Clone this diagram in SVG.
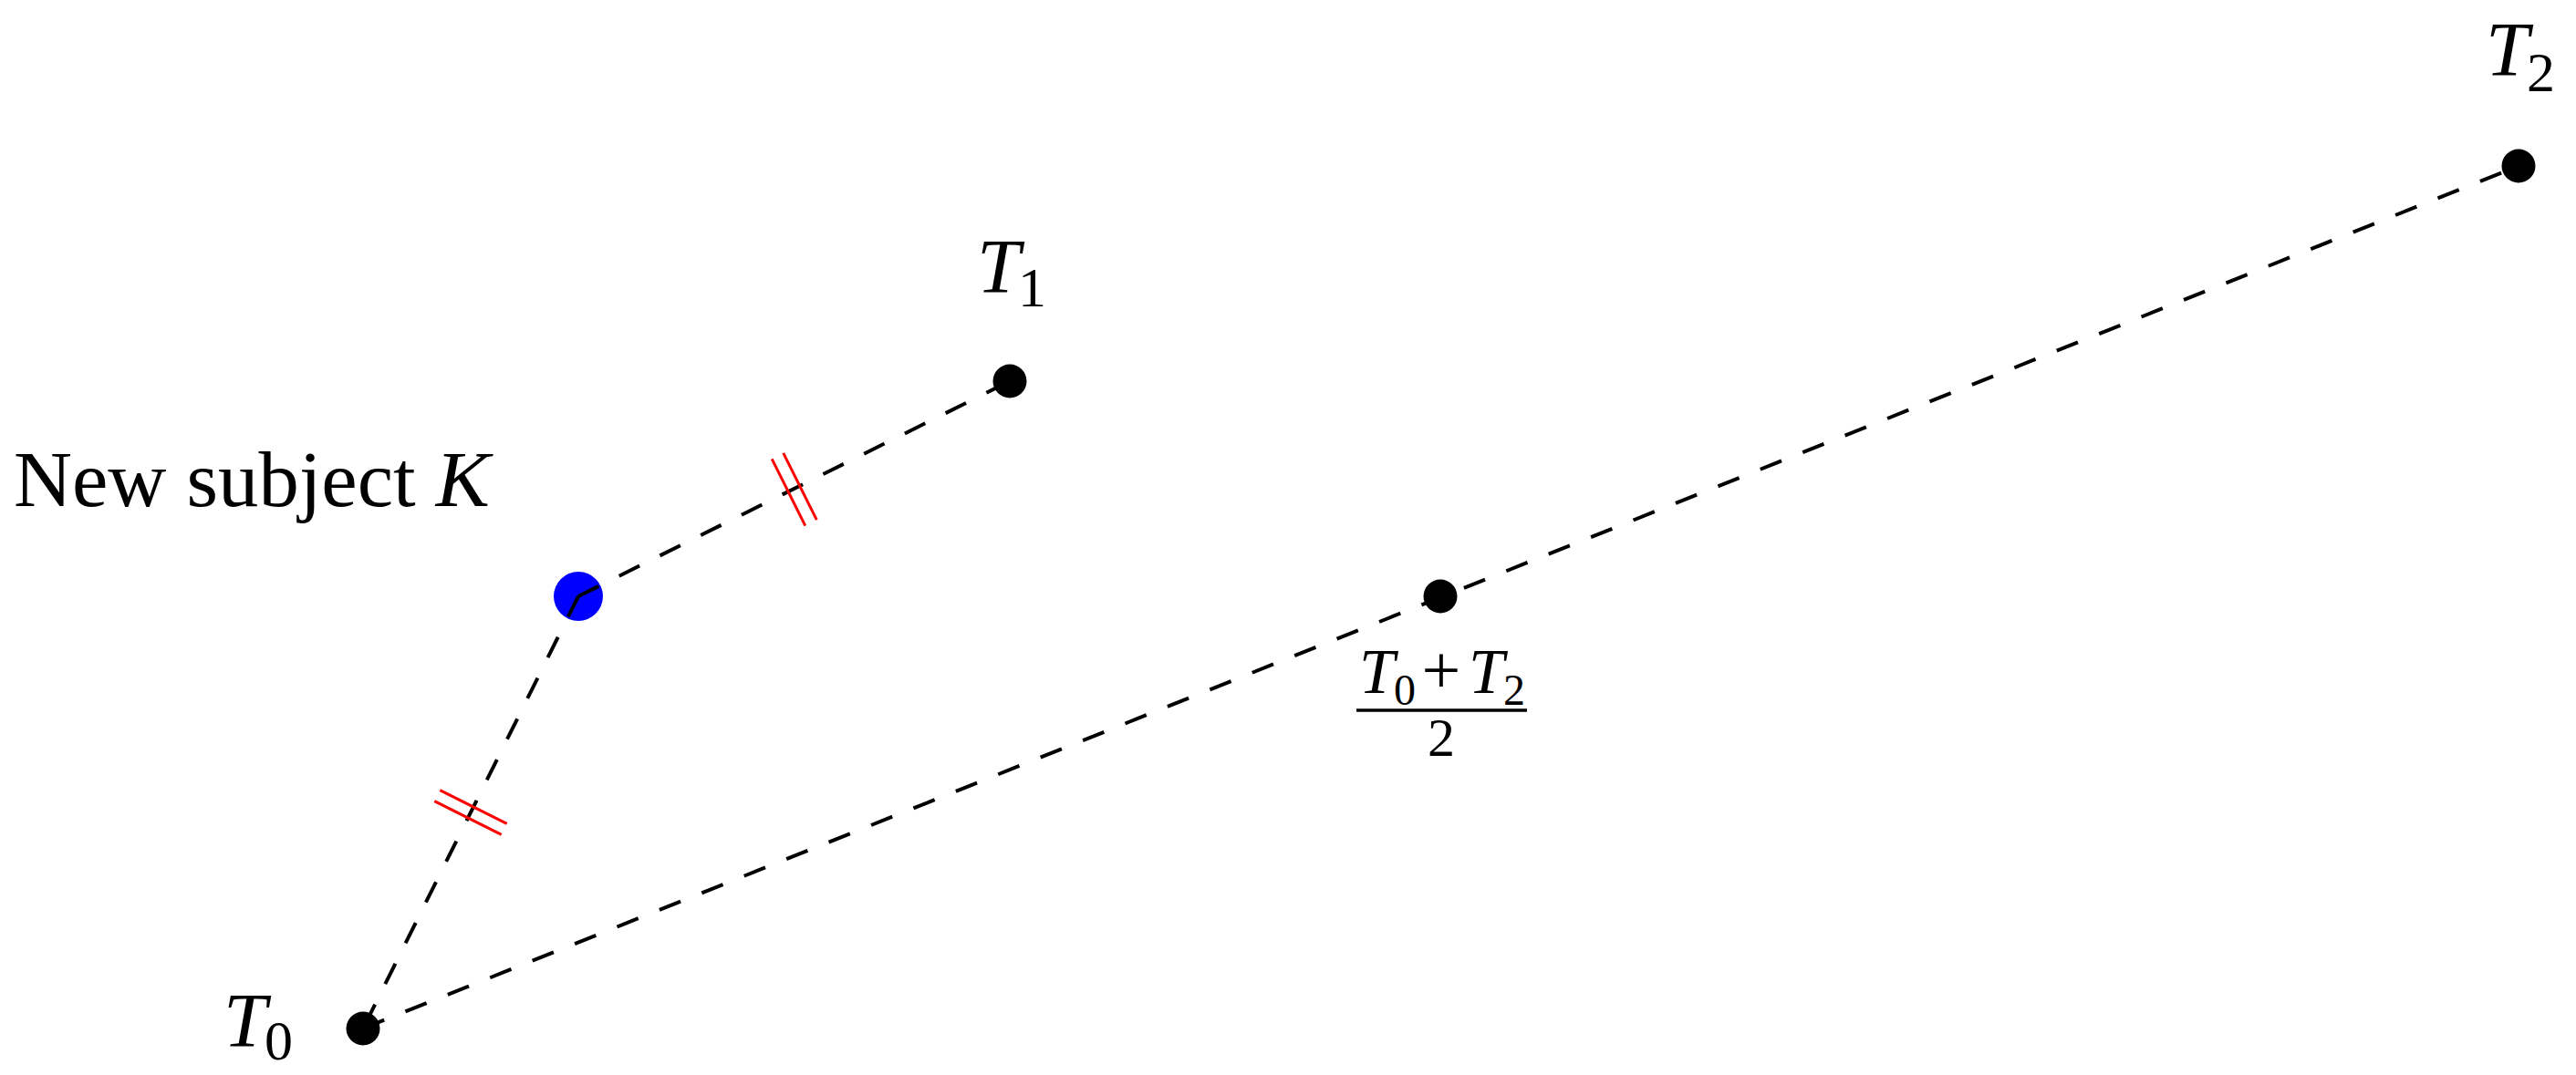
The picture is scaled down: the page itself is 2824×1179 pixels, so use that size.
<svg xmlns="http://www.w3.org/2000/svg" width="2824" height="1179" viewBox="0 0 2824 1179">
<style>
.lbl{font-family:"Liberation Serif","Times New Roman",serif;fill:#000}
.it{font-style:italic}
.dot{fill:#000}
.dash{stroke:#000;stroke-width:4;stroke-dasharray:25 25;fill:none}
.tick{stroke:#ff0000;stroke-width:3;fill:none}
</style>
<rect width="2824" height="1179" fill="#fff"/>
<g id="node-K">
<circle cx="634" cy="654" r="27" fill="#0000ff"/>
<text class="lbl" x="15" y="555" font-size="86" textLength="522" lengthAdjust="spacingAndGlyphs">New subject <tspan class="it">K</tspan></text>
</g>
<g id="node-T0">
<circle class="dot" cx="398" cy="1128" r="18.5"/>
<text class="lbl" font-size="85"><tspan class="it" x="245" y="1148">T</tspan><tspan x="290" y="1162" font-size="62">0</tspan></text>
</g>
<g id="node-T1">
<circle class="dot" cx="1107" cy="418" r="18.5"/>
<text class="lbl" font-size="85"><tspan class="it" x="1071" y="321">T</tspan><tspan x="1116" y="336" font-size="62">1</tspan></text>
</g>
<g id="node-T2">
<circle class="dot" cx="2761" cy="182" r="18.5"/>
<text class="lbl" font-size="85"><tspan class="it" x="2725" y="83">T</tspan><tspan x="2770" y="100" font-size="62">2</tspan></text>
</g>
<g id="node-mid">
<circle class="dot" cx="1579" cy="654" r="18.5"/>
<text class="lbl" font-size="70"><tspan class="it" x="1490" y="760">T</tspan><tspan x="1528" y="773" font-size="48">0</tspan></text>
<text class="lbl" x="1580" y="760" font-size="76" text-anchor="middle">+</text>
<text class="lbl" font-size="70"><tspan class="it" x="1610" y="760">T</tspan><tspan x="1648" y="773" font-size="48">2</tspan></text>
<line x1="1487" y1="779" x2="1674" y2="779" stroke="#000" stroke-width="3.5"/>
<text class="lbl" x="1580" y="829" font-size="60" text-anchor="middle">2</text>
</g>
<g id="connectors">
<line class="dash" x1="634" y1="654" x2="1107" y2="418"/>
<line class="dash" x1="634" y1="654" x2="398" y2="1128"/>
<line class="dash" x1="398" y1="1128" x2="2761" y2="182"/>
<line class="tick" x1="482.3" y1="866.7" x2="555.7" y2="903.3"/>
<line class="tick" x1="476.3" y1="878.7" x2="549.7" y2="915.3"/>
<line class="tick" x1="846.2" y1="503.3" x2="882.8" y2="576.7"/>
<line class="tick" x1="858.7" y1="496.8" x2="895.3" y2="570.2"/>
</g>
</svg>
